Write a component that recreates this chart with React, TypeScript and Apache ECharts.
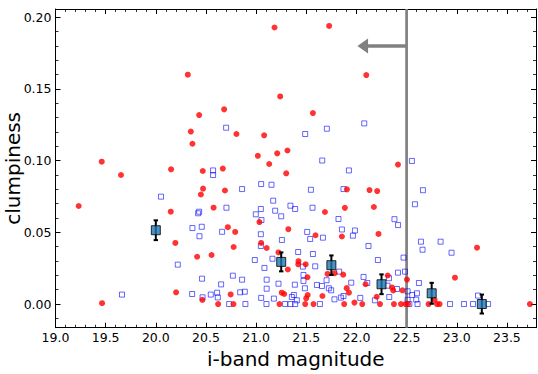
import React, { useEffect, useRef } from "react";
import * as echarts from "echarts";

// Axis extents and ticks
const X_MIN = 19.0;
const X_MAX = 23.79;
const X_INTERVAL = 0.5;
const Y_MIN = -0.0165;
const Y_MAX = 0.2058;
const Y_TICKS = [0.0, 0.05, 0.1, 0.15, 0.2];
const Y_MINOR = [-0.01, 0.01, 0.02, 0.03, 0.04, 0.06, 0.07, 0.08, 0.09, 0.11, 0.12, 0.13, 0.14, 0.16, 0.17, 0.18, 0.19];

// Magnitude cut and arrow
const CUT_MAG = 22.5;
const ARROW_Y = 0.18;
const ARROW_TIP = 22.01;

// Red points
const redMag = [
  19.231, 19.461, 19.464, 19.653, 20.152, 20.149, 20.195, 20.202, 20.319, 20.349,
  20.365, 20.432, 20.468, 20.471, 20.449, 20.412, 20.464, 20.556, 20.576, 20.621,
  20.668, 20.681, 20.689, 20.718, 20.746, 20.776, 20.774, 20.791, 20.804, 21.017,
  21.033, 21.05, 21.08, 21.105, 21.13, 21.183, 21.21, 21.223, 21.233, 21.24,
  21.255, 21.28, 21.3, 21.312, 21.316, 21.321, 21.422, 21.42, 21.494, 21.489,
  21.499, 21.514, 21.512, 21.566, 21.572, 21.592, 21.661, 21.686, 21.712, 21.728,
  21.783, 21.855, 21.868, 21.878, 21.885, 21.905, 21.903, 21.925, 21.98, 22.058,
  22.091, 22.098, 22.13, 22.174, 22.202, 22.207, 22.22, 22.235, 22.312, 22.354,
  22.367, 22.374, 22.414, 22.444, 22.459, 22.49, 22.504, 22.514, 22.719, 22.779,
  22.803, 22.829, 22.982, 23.202, 23.729,
];
const redClump = [
  0.0684, 0.0993, 0.0006, 0.09, 0.094, 0.0644, 0.0426, 0.0082, 0.16, 0.1203,
  0.1118, 0.1318, 0.0928, 0.0805, 0.0764, 0.033, 0.0029, 0.0342, 0.0672, 0.0,
  0.0945, 0.1358, 0.0792, 0.0536, 0.0067, 0.0398, 0.0, 0.0503, 0.1186, 0.1034,
  0.0572, 0.0426, 0.1177, 0.0391, 0.0977, 0.1929, 0.1051, 0.036, 0.0, 0.1448,
  0.0079, 0.007, 0.0912, 0.1071, 0.0241, 0.0522, 0.0299, 0.0277, 0.0277, 0.0,
  0.004, 0.0063, 0.0187, 0.1332, 0.0, 0.048, 0.0056, 0.0642, 0.021, 0.194,
  0.0215, 0.0471, 0.0205, 0.0, 0.0671, 0.08, 0.0111, 0.0079, 0.001, 0.0,
  0.0138, 0.1597, 0.0795, 0.0677, 0.0051, 0.0788, 0.0489, 0.0, 0.0199, 0.0116,
  0.0095, 0.0, 0.0973, 0.0, 0.0096, 0.0, 0.0171, 0.0, 0.0, 0.0029,
  0.0, 0.0, 0.0184, 0.0393, 0.0,
];

// Blue open squares
const blueMag = [
  19.663, 20.052, 20.219, 20.365, 20.362, 20.422, 20.432, 20.435, 20.458, 20.461,
  20.466, 20.548, 20.571, 20.571, 20.611, 20.618, 20.651, 20.661, 20.701, 20.704,
  20.731, 20.768, 20.841, 20.86, 20.86, 20.887, 20.893, 20.987, 20.997, 21.047,
  21.053, 21.047, 21.047, 21.05, 21.05, 21.083, 21.105, 21.105, 21.103, 21.153,
  21.163, 21.17, 21.177, 21.19, 21.223, 21.25, 21.257, 21.289, 21.342, 21.342,
  21.356, 21.376, 21.386, 21.389, 21.389, 21.406, 21.419, 21.472, 21.472, 21.466,
  21.486, 21.489, 21.509, 21.539, 21.546, 21.562, 21.566, 21.589, 21.606, 21.636,
  21.656, 21.659, 21.666, 21.702, 21.705, 21.725, 21.748, 21.781, 21.821, 21.828,
  21.845, 21.855, 21.871, 21.871, 21.925, 21.948, 21.965, 21.985, 22.038, 22.071,
  22.078, 22.108, 22.12, 22.184, 22.214, 22.31, 22.324, 22.327, 22.379, 22.404,
  22.414, 22.415, 22.47, 22.484, 22.51, 22.51, 22.527, 22.553, 22.556, 22.583,
  22.596, 22.603, 22.609, 22.623, 22.643, 22.659, 22.663, 22.839, 22.933, 22.948,
  23.072, 23.162, 23.212, 23.312,
];
const blueClump = [
  0.0066, 0.0749, 0.0275, 0.053, 0.007, 0.0633, 0.0644, 0.0473, 0.0539, 0.0177,
  0.0047, 0.0066, 0.0932, 0.09, 0.0079, 0.0046, 0.0137, 0.0504, 0.123, 0.0672,
  0.0, 0.0198, 0.0082, 0.0802, 0.017, 0.0086, 0.0, 0.0307, 0.0626, 0.0663,
  0.0586, 0.0487, 0.0405, 0.0837, 0.0043, 0.0252, 0.017, 0.0107, 0.0, 0.0832,
  0.0316, 0.0721, 0.0038, 0.0651, 0.0142, 0.0612, 0.0447, 0.0, 0.0686, 0.0,
  0.0049, 0.0063, 0.0135, 0.0663, 0.0, 0.0026, 0.0363, 0.0203, 0.0161, 0.0261,
  0.011, 0.1186, 0.0503, 0.0454, 0.0797, 0.0672, 0.0349, 0.0263, 0.0133, 0.0,
  0.0126, 0.1001, 0.0463, 0.0166, 0.1223, 0.011, 0.0096, 0.0033, 0.0593, 0.0226,
  0.0045, 0.052, 0.0802, 0.0056, 0.0932, 0.0149, 0.0477, 0.0513, 0.0043, 0.0189,
  0.126, 0.0147, 0.0405, 0.0026, 0.0307, 0.0128, 0.018, 0.0049, 0.0592, 0.0105,
  0.0219, 0.0551, 0.0324, 0.0226, 0.0089, 0.0029, 0.0, 0.0998, 0.0063, 0.0696,
  0.0031, 0.0075, 0.0, 0.0147, 0.0435, 0.0379, 0.0794, 0.0435, 0.0, 0.0358,
  0.0, 0.0, 0.0059, 0.0,
];

// Binned means with error bars
const binMag = [20.0, 21.25, 21.75, 22.25, 22.75, 23.25];
const binMean = [0.0515, 0.0294, 0.0271, 0.0138, 0.0075, 0.0];
const binErr = [0.0069, 0.0066, 0.0068, 0.0069, 0.0073, 0.0066];

const FONT = "DejaVu Sans";

export default function App() {
  const ref = useRef<HTMLDivElement>(null);

  useEffect(() => {
    if (!ref.current) return;
    const chart = echarts.init(ref.current, null, { renderer: "svg" });

    const redData = redMag.map((m, i) => [m, redClump[i]]);
    const blueData = blueMag.map((m, i) => [m, blueClump[i]]);
    const binData = binMag.map((m, i) => [m, binMean[i], binErr[i]]);

    const axisLine = { show: true, onZero: false, lineStyle: { color: "#000", width: 1 } };

    const xBase = {
      type: "value",
      min: X_MIN,
      max: X_MAX,
      interval: X_INTERVAL,
      axisLine,
      axisTick: { show: true, inside: true, length: 5, lineStyle: { color: "#000", width: 1 } },
      minorTick: { show: true, splitNumber: 5, length: 3, lineStyle: { color: "#000", width: 0.8 } },
      splitLine: { show: false },
      minorSplitLine: { show: false },
    };

    const yMajor = (pos: string, labels: boolean) => ({
      type: "value",
      position: pos,
      min: Y_MIN,
      max: Y_MAX,
      axisLine,
      axisTick: {
        show: true,
        inside: true,
        length: 5,
        customValues: Y_TICKS,
        lineStyle: { color: "#000", width: 1 },
      },
      axisLabel: labels
        ? {
            show: true,
            customValues: Y_TICKS,
            formatter: (v: number) => v.toFixed(2),
            fontFamily: FONT,
            fontSize: 12.5,
            color: "#000",
            margin: 4,
          }
        : { show: false },
      splitLine: { show: false },
    });

    const yMinor = (pos: string) => ({
      type: "value",
      position: pos,
      min: Y_MIN,
      max: Y_MAX,
      axisLine: { show: false, onZero: false },
      axisTick: {
        show: true,
        inside: true,
        length: 3,
        customValues: Y_MINOR,
        lineStyle: { color: "#000", width: 0.8 },
      },
      axisLabel: { show: false },
      splitLine: { show: false },
    });

    const option: any = {
      animation: false,
      backgroundColor: "#fff",
      grid: { left: 55.5, right: 2, top: 9, bottom: 46.3, outerBoundsMode: "none", containLabel: false },
      xAxis: [
        {
          ...xBase,
          position: "bottom",
          name: "i-band magnitude",
          nameLocation: "middle",
          nameGap: 18.5,
          nameTextStyle: { fontFamily: FONT, fontSize: 20, color: "#000" },
          axisLabel: {
            show: true,
            showMaxLabel: false,
            formatter: (v: number) => v.toFixed(1),
            fontFamily: FONT,
            fontSize: 12.5,
            color: "#000",
            margin: 3,
          },
        },
        { ...xBase, position: "top", axisLabel: { show: false } },
      ],
      yAxis: [
        {
          ...yMajor("left", true),
          name: "clumpiness",
          nameLocation: "middle",
          nameGap: 33,
          nameMoveOverlap: false,
          nameTextStyle: { fontFamily: FONT, fontSize: 20, color: "#000" },
        },
        yMajor("right", false),
        yMinor("left"),
        yMinor("right"),
      ],
      series: [
        {
          type: "custom",
          z: 1,
          silent: true,
          xAxisIndex: 0,
          yAxisIndex: 0,
          data: [[CUT_MAG, ARROW_Y, ARROW_TIP]],
          renderItem: (params: any, api: any) => {
            const cut = api.value(0);
            const ay = api.value(1);
            const tip = api.value(2);
            const top = api.coord([cut, Y_MAX]);
            const bot = api.coord([cut, Y_MIN]);
            const p0 = api.coord([cut, ay]);
            const p1 = api.coord([tip, ay]);
            const headLen = 10.6;
            const headHalf = 7.5;
            return {
              type: "group",
              children: [
                {
                  type: "line",
                  shape: { x1: top[0], y1: top[1], x2: bot[0], y2: bot[1] },
                  style: { stroke: "#808080", lineWidth: 2.7 },
                },
                {
                  type: "line",
                  shape: { x1: p0[0], y1: p0[1], x2: p1[0] + headLen - 1, y2: p1[1] },
                  style: { stroke: "#808080", lineWidth: 3.6 },
                },
                {
                  type: "polygon",
                  shape: {
                    points: [
                      [p1[0], p1[1]],
                      [p1[0] + headLen, p1[1] - headHalf],
                      [p1[0] + headLen, p1[1] + headHalf],
                    ],
                  },
                  style: { fill: "#808080" },
                },
              ],
            };
          },
        },
        {
          type: "scatter",
          z: 2,
          silent: true,
          data: blueData,
          symbol: "rect",
          symbolSize: 5,
          itemStyle: {
            color: "rgba(255,255,255,0)",
            borderColor: "rgba(0,0,255,0.75)",
            borderWidth: 1,
          },
        },
        {
          type: "scatter",
          z: 3,
          silent: true,
          data: redData,
          symbol: "circle",
          symbolSize: 6,
          itemStyle: { color: "#ff0000" },
        },
        {
          type: "custom",
          z: 4,
          silent: true,
          data: binData,
          renderItem: (params: any, api: any) => {
            const x = api.value(0);
            const y = api.value(1);
            const e = api.value(2);
            const hi = api.coord([x, y + e]);
            const lo = api.coord([x, y - e]);
            const cap = 2.2;
            return {
              type: "group",
              children: [
                {
                  type: "line",
                  shape: { x1: hi[0], y1: hi[1], x2: lo[0], y2: lo[1] },
                  style: { stroke: "#000", lineWidth: 2 },
                },
                {
                  type: "line",
                  shape: { x1: hi[0] - cap, y1: hi[1], x2: hi[0] + cap, y2: hi[1] },
                  style: { stroke: "#000", lineWidth: 2 },
                },
                {
                  type: "line",
                  shape: { x1: lo[0] - cap, y1: lo[1], x2: lo[0] + cap, y2: lo[1] },
                  style: { stroke: "#000", lineWidth: 2 },
                },
              ],
            };
          },
        },
        {
          type: "scatter",
          z: 5,
          silent: true,
          data: binData.map((d) => [d[0], d[1]]),
          symbol: "rect",
          symbolSize: 9,
          itemStyle: { color: "#1f77b4", borderColor: "#000", borderWidth: 1 },
        },
      ],
    };

    chart.setOption(option);
    return () => chart.dispose();
  }, []);

  return (
    <div
      ref={ref}
      style={{ position: "fixed", left: 0, top: 0, width: 538, height: 374, background: "#fff" }}
    />
  );
}
